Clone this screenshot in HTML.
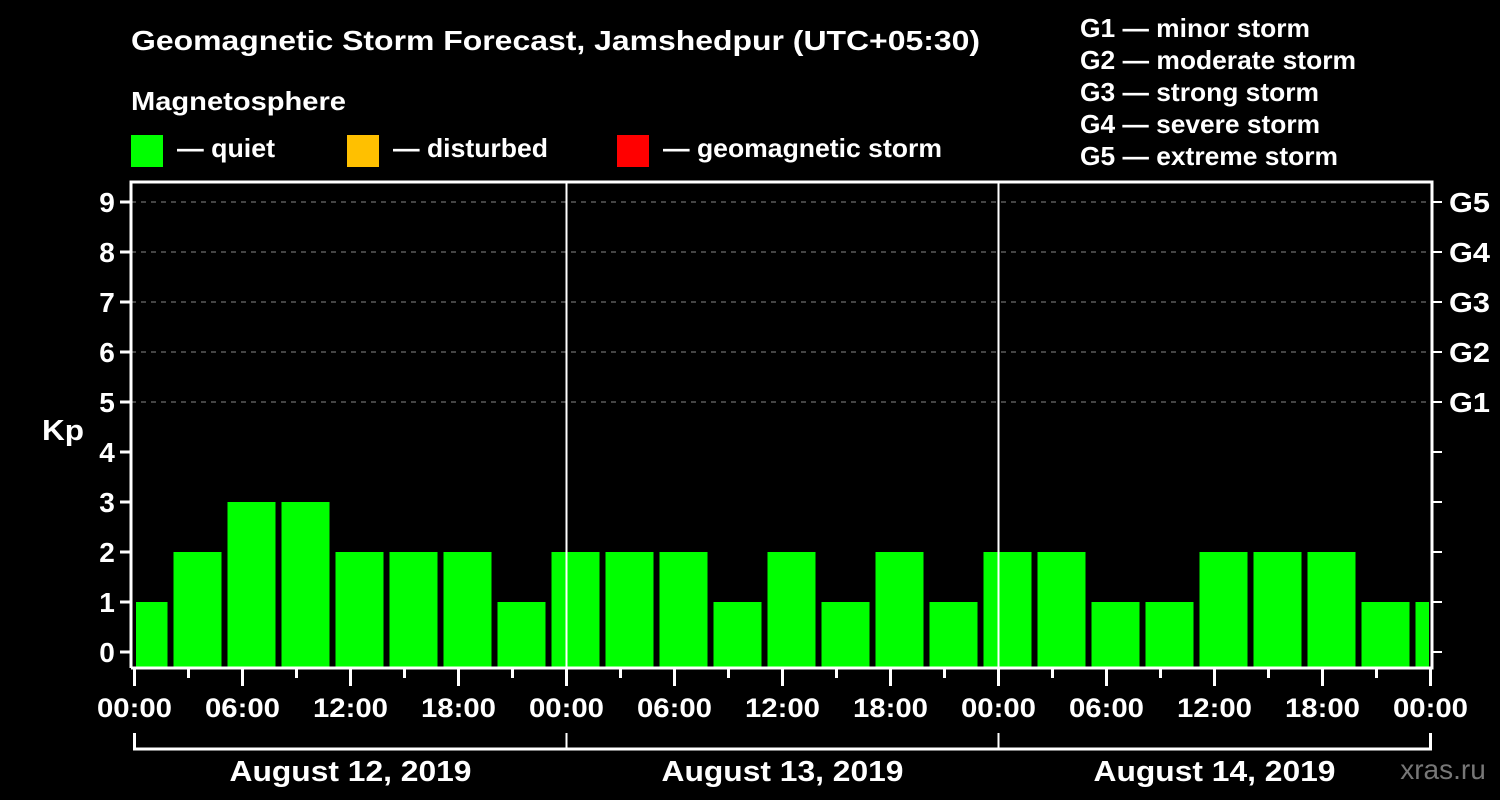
<!DOCTYPE html>
<html><head><meta charset="utf-8"><style>
html,body{margin:0;padding:0;background:#000;}
svg{display:block;font-family:"Liberation Sans",sans-serif;font-weight:bold;}
</style></head><body>
<svg width="1500" height="800" viewBox="0 0 1500 800">
<defs><clipPath id="pc"><rect x="136" y="182" width="1293" height="486"/></clipPath></defs>
<text x="131" y="50" font-size="28" fill="#fff" textLength="849" lengthAdjust="spacingAndGlyphs">Geomagnetic Storm Forecast, Jamshedpur (UTC+05:30)</text>
<text x="131" y="110" font-size="26" fill="#fff" textLength="215" lengthAdjust="spacingAndGlyphs">Magnetosphere</text>
<g><rect x="131" y="135" width="32" height="32" fill="#00ff00"/><text x="177" y="157" font-size="26" fill="#fff" textLength="98" lengthAdjust="spacingAndGlyphs">— quiet</text></g>
<g><rect x="347" y="135" width="32" height="32" fill="#ffc000"/><text x="393" y="157" font-size="26" fill="#fff" textLength="155" lengthAdjust="spacingAndGlyphs">— disturbed</text></g>
<g><rect x="617" y="135" width="32" height="32" fill="#ff0000"/><text x="663" y="157" font-size="26" fill="#fff" textLength="279" lengthAdjust="spacingAndGlyphs">— geomagnetic storm</text></g>
<g font-size="26" fill="#fff" lengthAdjust="spacingAndGlyphs">
<text x="1080" y="37" textLength="230" lengthAdjust="spacingAndGlyphs">G1 — minor storm</text>
<text x="1080" y="69" textLength="276" lengthAdjust="spacingAndGlyphs">G2 — moderate storm</text>
<text x="1080" y="101" textLength="239" lengthAdjust="spacingAndGlyphs">G3 — strong storm</text>
<text x="1080" y="133" textLength="240" lengthAdjust="spacingAndGlyphs">G4 — severe storm</text>
<text x="1080" y="165" textLength="258" lengthAdjust="spacingAndGlyphs">G5 — extreme storm</text>
</g>
<g id="grid"></g>
<g id="bars" clip-path="url(#pc)"></g>
<g id="axes"></g>
<text x="42" y="440" font-size="29" fill="#fff" textLength="42" lengthAdjust="spacingAndGlyphs">Kp</text>
<text x="1443" y="779" font-size="28" fill="#777" font-weight="normal" text-anchor="middle">xras.ru</text>
</svg>
<script>
const kpValues = [1,2,3,3,2,2,2,1, 2,2,2,1,2,1,2,1, 2,2,1,1,2,2,2,1, 1];
const dayLabels = ["August 12, 2019","August 13, 2019","August 14, 2019"];
const hourLabels = ["00:00","06:00","12:00","18:00"];
const gLabels = ["G1","G2","G3","G4","G5"];
const NS="http://www.w3.org/2000/svg";
const X0=134.5, PXH=18, Y0=652, PXK=50, BOT=668;
const xs=h=>X0+h*PXH, ys=k=>Y0-k*PXK;
function mk(t,a,p){const e=document.createElementNS(NS,t);for(const k in a)e.setAttribute(k,a[k]);p.appendChild(e);return e;}
const grid=document.getElementById('grid'),bars=document.getElementById('bars'),axes=document.getElementById('axes');
for(let k=5;k<=9;k++){const l=mk('line',{x1:131,x2:1432,y1:ys(k),y2:ys(k),stroke:'#888','stroke-dasharray':'5,5','stroke-width':1},grid);

}
kpValues.forEach((v,i)=>{const c=xs(0.5+3*i);const col=v>=5?'#ff0000':(v>=4?'#ffc000':'#00ff00');
const r=mk('rect',{x:c-24,y:ys(v),width:48,height:BOT-ys(v),fill:col},bars);

});
mk('path',{d:'M131,668 V182 H1432 V668 H131',fill:'none',stroke:'#fff','stroke-width':3},axes);
for(let d=1;d<3;d++)mk('line',{x1:xs(24*d),x2:xs(24*d),y1:182,y2:668,stroke:'#fff','stroke-width':2},axes);
for(let k=0;k<=9;k++){mk('line',{x1:120,x2:131,y1:ys(k),y2:ys(k),stroke:'#fff','stroke-width':3},axes);
mk('line',{x1:1432,x2:1442,y1:ys(k),y2:ys(k),stroke:'#fff','stroke-width':2},axes);
const t=mk('text',{x:107,y:ys(k)+10,'font-size':28,fill:'#fff','text-anchor':'middle'},axes);t.textContent=k;

}
gLabels.forEach((g,i)=>{const t=mk('text',{x:1449,y:ys(5+i)+10,'font-size':28,fill:'#fff',textLength:41,lengthAdjust:'spacingAndGlyphs'},axes);t.textContent=g;

});
for(let h=0;h<=72;h+=3){const maj=h%6===0;mk('line',{x1:xs(h),x2:xs(h),y1:668,y2:maj?686:678,stroke:'#fff','stroke-width':3},axes);
if(maj){const t=mk('text',{x:xs(h),y:717,'font-size':27,fill:'#fff','text-anchor':'middle',textLength:75,lengthAdjust:'spacingAndGlyphs'},axes);t.textContent=hourLabels[(h/6)%4];

}}
mk('path',{d:`M${xs(0)},733 V749 H${xs(72)} V733`,fill:'none',stroke:'#fff','stroke-width':3},axes);
for(let d=1;d<3;d++)mk('line',{x1:xs(24*d),x2:xs(24*d),y1:733,y2:749,stroke:'#fff','stroke-width':2},axes);
dayLabels.forEach((s,i)=>{const t=mk('text',{x:xs(24*i+12),y:781,'font-size':29,fill:'#fff','text-anchor':'middle',textLength:242,lengthAdjust:'spacingAndGlyphs'},axes);t.textContent=s;

});
</script>
</body></html>
